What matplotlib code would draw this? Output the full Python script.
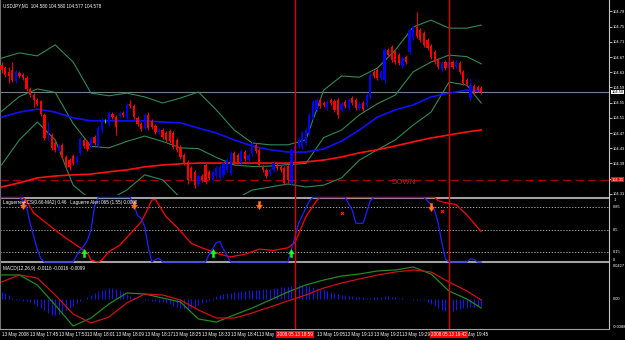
import numpy as np
import matplotlib.pyplot as plt
import matplotlib.transforms as mtransforms
from matplotlib.path import Path

plt.rcParams['font.family'] = ['Liberation Sans', 'DejaVu Sans']

# ---------------- data ----------------
opens = [104.649, 104.641, 104.631, 104.636, 104.607, 104.628, 104.623, 104.615, 104.586, 104.570,
         104.557, 104.554, 104.518, 104.465, 104.465, 104.444, 104.426, 104.439, 104.407, 104.399,
         104.410, 104.394, 104.418, 104.452, 104.447, 104.436, 104.460, 104.436, 104.478, 104.502,
         104.494, 104.520, 104.512, 104.515, 104.523, 104.512, 104.547, 104.541, 104.510, 104.494,
         104.483, 104.518, 104.502, 104.489, 104.473, 104.478, 104.470, 104.476, 104.470, 104.452,
         104.433, 104.412, 104.394, 104.378, 104.368, 104.336, 104.357, 104.386, 104.368, 104.347,
         104.357, 104.352, 104.360, 104.373, 104.365, 104.418, 104.412, 104.391, 104.420, 104.399,
         104.415, 104.439, 104.426, 104.381, 104.373, 104.362, 104.373, 104.386, 104.381, 104.378,
         104.383, 104.339, 104.420, 104.436, 104.433, 104.444, 104.470, 104.510, 104.531, 104.557,
         104.549, 104.536, 104.557, 104.554, 104.557, 104.531, 104.552, 104.536, 104.562, 104.557,
         104.536, 104.549, 104.544, 104.565, 104.631, 104.636, 104.615, 104.610, 104.688, 104.696,
         104.683, 104.675, 104.646, 104.670, 104.683, 104.720, 104.749, 104.741, 104.733, 104.715,
         104.699, 104.683, 104.662, 104.636, 104.657, 104.641, 104.657, 104.644, 104.654, 104.631,
         104.610, 104.562, 104.594, 104.591, 104.589]
closes = [104.636, 104.623, 104.620, 104.610, 104.631, 104.620, 104.615, 104.586, 104.570, 104.557,
          104.547, 104.520, 104.457, 104.470, 104.431, 104.426, 104.436, 104.407, 104.383, 104.381,
          104.391, 104.407, 104.454, 104.436, 104.428, 104.454, 104.444, 104.483, 104.504, 104.502,
          104.523, 104.512, 104.486, 104.523, 104.518, 104.544, 104.541, 104.512, 104.494, 104.481,
          104.518, 104.483, 104.486, 104.473, 104.478, 104.460, 104.452, 104.449, 104.433, 104.426,
          104.407, 104.391, 104.347, 104.352, 104.333, 104.357, 104.347, 104.341, 104.352, 104.368,
          104.378, 104.381, 104.391, 104.399, 104.418, 104.391, 104.394, 104.423, 104.402, 104.412,
          104.444, 104.423, 104.386, 104.373, 104.357, 104.373, 104.391, 104.378, 104.373, 104.339,
          104.347, 104.426, 104.436, 104.452, 104.470, 104.478, 104.518, 104.552, 104.557, 104.541,
          104.544, 104.552, 104.549, 104.531, 104.518, 104.547, 104.541, 104.557, 104.549, 104.536,
          104.547, 104.533, 104.570, 104.623, 104.620, 104.615, 104.631, 104.688, 104.675, 104.662,
          104.657, 104.654, 104.667, 104.657, 104.741, 104.749, 104.725, 104.715, 104.702, 104.694,
          104.670, 104.657, 104.644, 104.654, 104.641, 104.657, 104.644, 104.657, 104.631, 104.602,
          104.599, 104.596, 104.578, 104.583, 104.578]
highs = [104.657, 104.646, 104.644, 104.657, 104.636, 104.633, 104.628, 104.620, 104.591, 104.575,
         104.562, 104.557, 104.523, 104.499, 104.470, 104.449, 104.441, 104.444, 104.412, 104.404,
         104.415, 104.412, 104.460, 104.457, 104.452, 104.460, 104.465, 104.489, 104.510, 104.507,
         104.528, 104.525, 104.518, 104.528, 104.528, 104.549, 104.557, 104.547, 104.515, 104.499,
         104.523, 104.525, 104.507, 104.494, 104.483, 104.483, 104.476, 104.481, 104.476, 104.457,
         104.439, 104.418, 104.399, 104.383, 104.373, 104.362, 104.362, 104.391, 104.373, 104.373,
         104.383, 104.386, 104.397, 104.404, 104.423, 104.423, 104.418, 104.428, 104.426, 104.418,
         104.449, 104.444, 104.431, 104.386, 104.378, 104.378, 104.397, 104.391, 104.386, 104.383,
         104.389, 104.431, 104.441, 104.457, 104.476, 104.483, 104.523, 104.557, 104.562, 104.562,
         104.554, 104.557, 104.562, 104.560, 104.562, 104.552, 104.557, 104.562, 104.568, 104.562,
         104.552, 104.554, 104.575, 104.628, 104.636, 104.641, 104.636, 104.694, 104.694, 104.702,
         104.688, 104.681, 104.673, 104.675, 104.746, 104.754, 104.788, 104.746, 104.738, 104.720,
         104.704, 104.688, 104.667, 104.660, 104.662, 104.662, 104.662, 104.662, 104.660, 104.636,
         104.615, 104.615, 104.599, 104.596, 104.594]
lows = [104.628, 104.617, 104.602, 104.604, 104.602, 104.615, 104.610, 104.581, 104.565, 104.539,
        104.541, 104.515, 104.452, 104.452, 104.426, 104.420, 104.420, 104.402, 104.378, 104.373,
        104.386, 104.389, 104.412, 104.431, 104.423, 104.431, 104.439, 104.431, 104.473, 104.497,
        104.489, 104.507, 104.465, 104.510, 104.512, 104.507, 104.536, 104.507, 104.489, 104.476,
        104.478, 104.478, 104.481, 104.468, 104.468, 104.454, 104.447, 104.444, 104.428, 104.420,
        104.402, 104.386, 104.336, 104.347, 104.326, 104.331, 104.341, 104.336, 104.347, 104.341,
        104.352, 104.347, 104.355, 104.368, 104.360, 104.386, 104.389, 104.386, 104.397, 104.394,
        104.410, 104.418, 104.381, 104.368, 104.352, 104.357, 104.368, 104.373, 104.368, 104.333,
        104.339, 104.333, 104.415, 104.431, 104.428, 104.439, 104.465, 104.504, 104.525, 104.536,
        104.539, 104.531, 104.544, 104.525, 104.510, 104.525, 104.536, 104.531, 104.544, 104.531,
        104.531, 104.528, 104.539, 104.560, 104.615, 104.610, 104.610, 104.602, 104.670, 104.657,
        104.652, 104.649, 104.641, 104.652, 104.678, 104.715, 104.720, 104.710, 104.696, 104.688,
        104.665, 104.652, 104.639, 104.631, 104.636, 104.636, 104.639, 104.639, 104.625, 104.596,
        104.594, 104.557, 104.570, 104.578, 104.573]

# indicator samples (bar index)
ind_idx = [0, 5, 10, 15, 20, 25, 30, 35, 40, 45, 50, 55, 60, 65, 70, 75, 80, 85, 90, 95,
           100, 105, 110, 115, 120, 125, 130, 134]
ma_fast = [104.512, 104.525, 104.533, 104.525, 104.510, 104.502, 104.502, 104.502, 104.502, 104.499,
           104.497, 104.483, 104.470, 104.452, 104.436, 104.426, 104.420, 104.420, 104.428, 104.449,
           104.478, 104.512, 104.531, 104.544, 104.565, 104.575, 104.583, 104.581]
ma_slow = [104.328, 104.339, 104.352, 104.357, 104.360, 104.362, 104.368, 104.373, 104.381, 104.386,
           104.389, 104.391, 104.391, 104.391, 104.391, 104.391, 104.391, 104.394, 104.399, 104.407,
           104.418, 104.426, 104.436, 104.447, 104.457, 104.465, 104.473, 104.478]
bb_upper = [104.667, 104.681, 104.673, 104.702, 104.657, 104.575, 104.568, 104.575, 104.565, 104.549,
            104.562, 104.578, 104.531, 104.478, 104.444, 104.439, 104.439, 104.452, 104.583, 104.620,
            104.617, 104.641, 104.688, 104.749, 104.767, 104.746, 104.746, 104.754]
bb_mid = [104.527, 104.566, 104.586, 104.577, 104.495, 104.435, 104.431, 104.448, 104.462, 104.448,
          104.431, 104.429, 104.406, 104.386, 104.382, 104.383, 104.387, 104.390, 104.458, 104.478,
          104.518, 104.547, 104.570, 104.631, 104.657, 104.675, 104.671, 104.652]
bb_lower = [104.386, 104.452, 104.499, 104.452, 104.333, 104.294, 104.294, 104.320, 104.360, 104.347,
            104.299, 104.281, 104.281, 104.294, 104.320, 104.328, 104.336, 104.328, 104.333, 104.352,
            104.399, 104.426, 104.452, 104.491, 104.525, 104.604, 104.596, 104.549]

lag_idx = [0, 5, 6, 7, 8, 9, 10, 11, 12, 20, 21, 22, 23, 24, 25, 26, 27, 36, 37, 38, 39, 40, 41, 42,
           43, 44, 45, 57, 58, 60, 61, 62, 64, 80, 81, 83, 86, 87, 96, 98, 99, 101, 103, 104, 118,
           119, 120, 121, 122, 123, 124, 125, 130, 131, 132, 133, 134]
lag_val = [1.0, 1.0, 0.95, 0.85, 0.6, 0.4, 0.19, 0.05, 0.0, 0.0, 0.1, 0.19, 0.25, 0.34, 0.5, 0.86,
           1.0, 1.0, 0.88, 0.72, 0.68, 0.55, 0.23, 0.0, 0.04, 0.06, 0.0, 0.0, 0.12, 0.3, 0.32, 0.2,
           0.0, 0.0, 0.2, 0.6, 0.95, 1.0, 1.0, 0.8, 0.6, 0.6, 0.95, 1.0, 1.0, 0.95, 0.88, 0.8, 0.6,
           0.3, 0.05, 0.0, 0.0, 0.05, 0.04, 0.0, 0.0]
alert_idx = [0, 6, 7, 9, 14, 18, 22, 24, 25, 27, 28, 30, 33, 37, 39, 41, 42, 43, 46, 49, 53, 56,
             59, 61, 64, 68, 72, 76, 80, 82, 85, 88, 89, 121, 122, 124, 127, 130, 132, 134]
alert_val = [1.0, 1.0, 0.95, 0.76, 0.54, 0.37, 0.22, 0.14, 0.03, 0.0, 0.03, 0.16, 0.26, 0.5, 0.62,
             0.84, 0.96, 0.97, 0.70, 0.54, 0.29, 0.22, 0.16, 0.12, 0.08, 0.12, 0.2, 0.18, 0.22, 0.3,
             0.7, 0.95, 1.0, 1.0, 0.95, 0.92, 0.89, 0.73, 0.6, 0.47]
sell_idx = [6, 37, 72, 120]
sell_val = [0.88, 0.88, 0.88, 0.86]
buy_idx = [23, 59, 81]
buy_val = [0.14, 0.14, 0.14]
dot_idx = [95, 123]
dot_val = [0.76, 0.79]
lag_levels = [0.85, 0.5, 0.15]

macd_main = [0.0294, 0.0294, 0.0169, -0.0081, -0.0344, -0.0244, -0.0069, 0.0069, 0.0056, 0.0006,
             -0.0044, -0.0256, -0.0294, -0.0206, -0.0119, -0.0019, 0.0081, 0.0169, 0.0231, 0.0281,
             0.0306, 0.0344, 0.0356, 0.0394, 0.0306, 0.0094, -0.0006, -0.0119]
macd_signal = [0.0206, 0.0294, 0.0256, 0.0044, -0.0194, -0.0306, -0.0231, -0.0056, 0.0056, 0.0044,
               -0.0019, -0.0144, -0.0244, -0.0244, -0.0181, -0.0106, -0.0031, 0.0044, 0.0131, 0.0194,
               0.0244, 0.0294, 0.0331, 0.0356, 0.0331, 0.0206, 0.0094, -0.0019]
macd_hist = [0.0081, 0.0069, 0.0044, 0.0006, -0.0019, -0.0019, -0.0031, -0.0031, -0.0044, -0.0069,
             -0.0094, -0.0119, -0.0144, -0.0181, -0.0206, -0.0206, -0.0194, -0.0169, -0.0144, -0.0119,
             -0.0094, -0.0056, -0.0031, -0.0006, 0.0019, 0.0044, 0.0069, 0.0094, 0.0106, 0.0119,
             0.0131, 0.0131, 0.0119, 0.0106, 0.0081, 0.0056, 0.0031, 0.0019, 0.0006, -0.0006,
             -0.0019, -0.0019, -0.0031, -0.0031, -0.0044, -0.0044, -0.0056, -0.0069, -0.0094, -0.0106,
             -0.0119, -0.0131, -0.0131, -0.0119, -0.0106, -0.0081, -0.0056, -0.0044, -0.0019, 0.0006,
             0.0031, 0.0044, 0.0056, 0.0069, 0.0069, 0.0081, 0.0081, 0.0094, 0.0094, 0.0106,
             0.0106, 0.0106, 0.0106, 0.0119, 0.0119, 0.0119, 0.0131, 0.0131, 0.0144, 0.0144,
             0.0144, 0.0156, 0.0156, 0.0169, 0.0169, 0.0169, 0.0156, 0.0144, 0.0131, 0.0119,
             0.0106, 0.0094, 0.0081, 0.0069, 0.0056, 0.0044, 0.0044, 0.0031, 0.0031, 0.0019,
             0.0019, 0.0019, 0.0006, 0.0006, 0.0019, 0.0019, 0.0019, 0.0031, 0.0031, 0.0019,
             0.0019, 0.0006, 0.0006, -0.0006, -0.0006, -0.0019, -0.0019, -0.0019, -0.0019, -0.0044,
             -0.0069, -0.0094, -0.0119, -0.0144, -0.0156, -0.0169, -0.0156, -0.0144, -0.0131, -0.0119,
             -0.0119, -0.0106, -0.0106, -0.0094, -0.0094]

price_ticks = [104.79, 104.75, 104.71, 104.67, 104.63, 104.59, 104.55, 104.51, 104.47, 104.43,
               104.39, 104.35, 104.31]
last_price = 104.578
alert_price = 104.347
# labels hidden under the red time boxes (18:57, 19:37) are left out
time_idx = [0, 8, 16, 24, 32, 40, 48, 56, 64, 72, 88, 96, 104, 112, 128]
time_labels = ['13 May 2008', '13 May 17:45', '13 May 17:53', '13 May 18:01', '13 May 18:09',
               '13 May 18:17', '13 May 18:25', '13 May 18:33', '13 May 18:41', '13 May 18:49',
               '13 May 19:05', '13 May 19:13', '13 May 19:21', '13 May 19:29', '13 May 19:45']
vline_idx = [82, 125]
vline_labels = ['2008.05.13 18:59', '2008.05.13 19:42']

# ---------------- figure ----------------
W, H = 625, 340
FS = 3.3
AFS = 2.9  # right-hand scale labels
GREY = '#a0a0a0'
fig = plt.figure(figsize=(W / 100, H / 100), dpi=100, facecolor='black')


def panel(y0, y1):
    ax = fig.add_axes([0, 1 - y1 / H, 609 / W, (y1 - y0) / H], facecolor='black')
    ax.set_xlim(-0.42, 169.7)
    ax.set_xticks([])
    for s in ax.spines.values():
        s.set_visible(False)
    ax.spines['right'].set_visible(True)
    ax.spines['right'].set_color('#c8c8c8')
    ax.spines['left'].set_visible(True)
    ax.spines['left'].set_color('#707070')
    ax.yaxis.tick_right()
    ax.tick_params(axis='y', colors='white', labelsize=AFS, length=2, width=0.5, pad=0.5)
    return ax


ax1 = panel(0, 195)
ax2 = panel(195, 264)
ax3 = panel(264, 329)

# main price panel
ax1.set_ylim(104.307, 104.820)
x = np.arange(len(closes))
o = np.array(opens)
c = np.array(closes)
col = np.where(c > o, '#0000ff', np.where(c < o, '#ff0000', '#00ff00'))
ax1.vlines(x, lows, highs, colors=col, lw=0.7, zorder=4)
ax1.bar(x, np.maximum(np.abs(c - o), 0.0009), bottom=np.minimum(o, c), width=0.62,
        color=col, linewidth=0, zorder=4)

band_col = '#2f8a58'
ax1.plot(ind_idx, bb_upper, color=band_col, lw=0.8, zorder=3)
ax1.plot(ind_idx, bb_mid, color=band_col, lw=0.8, zorder=3)
ax1.plot(ind_idx, bb_lower, color=band_col, lw=0.8, zorder=3)
ax1.plot(ind_idx, ma_fast, color='#1010ff', lw=1.2, zorder=3)
ax1.plot(ind_idx, ma_slow, color='#ff1010', lw=1.2, zorder=3)

ax1.axhline(last_price, color='#708090', lw=0.8, zorder=2)
ax1.axhline(alert_price, color='#a00000', lw=1.0, ls=(0, (6, 3)), zorder=2)
ax1.text(109, alert_price - 0.008, 'DOWN', color='#c02020', fontsize=5.5,
         va='center', ha='left', zorder=5)
ax1.set_yticks(price_ticks)
ax1.set_yticklabels([f'{p:.2f}' for p in price_ticks])
ytr = mtransforms.blended_transform_factory(ax1.transAxes, ax1.transData)
ax1.text(1.004, last_price, f'{last_price:.2f}', transform=ytr, fontsize=AFS, color='black',
         va='center', ha='left', bbox=dict(boxstyle='square,pad=0.1', fc='white', ec='none'))
ax1.text(1.004, alert_price, f'{alert_price:.2f}', transform=ytr, fontsize=AFS, color='white',
         va='center', ha='left', bbox=dict(boxstyle='square,pad=0.1', fc='#ff0000', ec='none'))
ax1.text(0.005, 0.985, 'USDJPY,M1  104.580 104.580 104.577 104.578', transform=ax1.transAxes,
         fontsize=FS, color='white', va='top', ha='left')

# laguerre panel
ax2.set_ylim(-0.031, 1.039)
ax2.axhline(1.0, color=GREY, lw=1.5, zorder=1)
ax2.axhline(0.0, color=GREY, lw=1.5, zorder=1)
for lv in lag_levels:
    ax2.axhline(lv, color='#c0c0c0', lw=0.6, ls=(0, (1.5, 2)), zorder=1)
ax2.plot(alert_idx, alert_val, color='#ff0000', lw=0.9, zorder=3)
ax2.plot(lag_idx, lag_val, color='#2020ff', lw=0.9, zorder=3)

down_arrow = Path([(-0.3, 1), (0.3, 1), (0.3, 0.1), (0.75, 0.1), (0, -1), (-0.75, 0.1),
                   (-0.3, 0.1), (-0.3, 1)], closed=True)
up_arrow = Path([(-0.3, -1), (0.3, -1), (0.3, -0.1), (0.75, -0.1), (0, 1), (-0.75, -0.1),
                 (-0.3, -0.1), (-0.3, -1)], closed=True)
ax2.plot(sell_idx, sell_val, ls='none', marker=down_arrow, ms=6, mfc='#ff7a1a',
         mec='#ff4000', mew=0.3, zorder=5)
ax2.plot(buy_idx, buy_val, ls='none', marker=up_arrow, ms=6, mfc='#20ff20',
         mec='#00c000', mew=0.3, zorder=5)
ax2.plot(dot_idx, dot_val, ls='none', marker='x', ms=2, color='#ff2020', mew=0.8, zorder=5)
ax2.set_yticks([])
ytr2 = mtransforms.blended_transform_factory(ax2.transAxes, ax2.transData)
for val, lab, va in [(1.0, '1', 'top'), (0.85, '0.85', 'center'), (0.5, '0.5', 'center'),
                     (0.15, '0.15', 'center'), (0.0, '0', 'bottom')]:
    ax2.text(1.007, val, lab, transform=ytr2, fontsize=AFS, color='white', va=va, ha='left')
ax2.text(0.005, 0.93, 'Laguerre-ACS(0.66-MA2) 0.46   Laguerre Alert 065 (1.55) 0.0000',
         transform=ax2.transAxes, fontsize=FS, color='white', va='top', ha='left', zorder=6)

# macd panel
ax3.set_ylim(-0.0381, 0.0431)
ax3.vlines(x, 0, macd_hist, color='#1515ff', lw=0.7, zorder=2)
ax3.plot(ind_idx, macd_main, color='#1f8a1f', lw=0.9, zorder=3)
ax3.plot(ind_idx, macd_signal, color='#d01010', lw=0.9, zorder=3)
ax3.set_yticks([])
ytr3 = mtransforms.blended_transform_factory(ax3.transAxes, ax3.transData)
ax3.text(1.007, 0.0431, '0.0427', transform=ytr3, fontsize=AFS, color='white', va='top', ha='left')
ax3.text(1.007, 0.0, '0.00', transform=ytr3, fontsize=AFS, color='white', va='center', ha='left')
ax3.text(1.007, -0.0381, '-0.0388', transform=ytr3, fontsize=AFS, color='white', va='bottom',
         ha='left')
ax3.text(0.005, 0.97, 'MACD(12,26,9) -0.0116 -0.0016 -0.0099', transform=ax3.transAxes,
         fontsize=FS, color='white', va='top', ha='left')
ax3.spines['bottom'].set_visible(True)
ax3.spines['bottom'].set_color(GREY)

# vertical event lines
for ax in (ax1, ax2, ax3):
    for vi in vline_idx:
        ax.axvline(vi, color='#e00000', lw=1.0, zorder=4)

# time axis
xtr = mtransforms.blended_transform_factory(ax3.transData, ax3.transAxes)
for ti, lab in zip(time_idx, time_labels):
    ax3.text(ti, -0.09, lab, transform=xtr, fontsize=FS, color='white', va='center',
             ha='left', clip_on=False)
for vi, lab in zip(vline_idx, vline_labels):
    ax3.text(vi, -0.09, lab, transform=xtr, fontsize=FS, color='white', va='center',
             ha='center', clip_on=False, zorder=10,
             bbox=dict(boxstyle='square,pad=0.2', fc='#ff0000', ec='none'))

fig.savefig('out.png', dpi=100, facecolor='black')
